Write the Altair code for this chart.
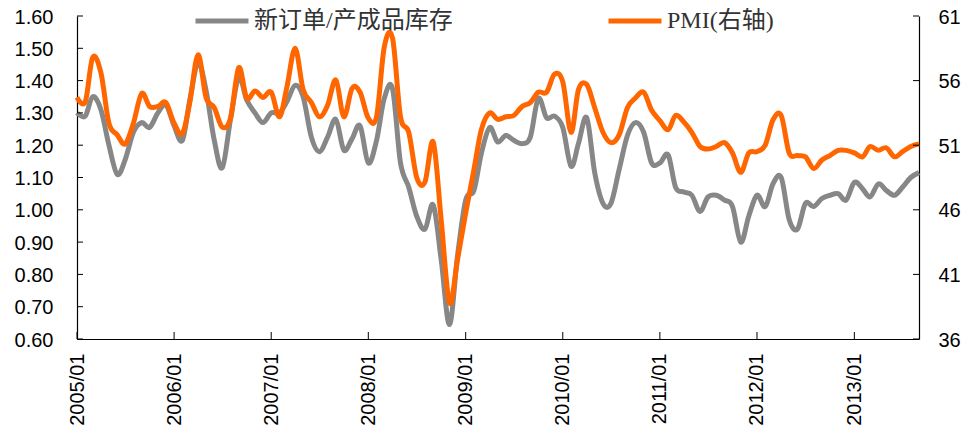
import altair as alt
import pandas as pd

# ---- data ----
start_month = "2005-01-01"
n_months = 105  # 2005/01 .. 2013/09

ratio_values = [
    1.30, 1.29, 1.35, 1.31, 1.20, 1.11, 1.155, 1.24, 1.27, 1.255, 1.30, 1.325,
    1.26, 1.215, 1.34, 1.455, 1.37, 1.215, 1.13, 1.28, 1.41, 1.34, 1.30, 1.27,
    1.30, 1.30, 1.335, 1.385, 1.35, 1.225, 1.18, 1.225, 1.28, 1.185, 1.22, 1.26,
    1.145, 1.215, 1.345, 1.375, 1.145, 1.07, 0.98, 0.94, 1.015, 0.845, 0.645, 0.855,
    1.03, 1.06, 1.175, 1.255, 1.21, 1.23, 1.215, 1.205, 1.225, 1.345, 1.285, 1.29,
    1.255, 1.135, 1.205, 1.285, 1.115, 1.02, 1.02, 1.125, 1.23, 1.27, 1.24, 1.145,
    1.145, 1.17, 1.07, 1.055, 1.045, 0.995, 1.04, 1.045, 1.03, 1.01, 0.90, 0.98,
    1.045, 1.01, 1.08, 1.10, 0.97, 0.94, 1.02, 1.01, 1.035, 1.045, 1.05, 1.03,
    1.085, 1.065, 1.04, 1.08, 1.06, 1.045, 1.07, 1.10, 1.115,
]

pmi_values = [
    54.7, 54.35, 57.8, 56.6, 52.7, 51.8, 51.1, 52.7, 55.0, 54.0, 54.0, 54.3,
    52.7, 51.9, 54.3, 58.0, 54.7, 53.9, 52.4, 53.1, 57.0, 54.65, 55.2, 54.7,
    55.1, 53.2, 55.5, 58.5, 55.3, 54.3, 53.2, 54.1, 56.05, 53.2, 55.4, 55.1,
    53.1, 53.2, 58.6, 59.3, 53.2, 52.0, 48.5, 48.15, 51.25, 45.2, 38.8, 42.1,
    45.75, 49.1, 52.2, 53.5, 53.0, 53.2, 53.3, 54.0, 54.3, 55.1, 55.1, 56.5,
    55.9, 52.0, 55.3, 55.7, 53.9, 52.0, 51.2, 51.8, 53.9, 54.65, 55.1, 53.7,
    52.9, 52.2, 53.3, 52.8, 52.0, 50.9, 50.7, 50.9, 51.2, 50.4, 48.9, 50.4,
    50.5, 51.0, 52.95, 53.3, 50.4, 50.2, 50.1, 49.2, 49.85, 50.2, 50.6, 50.6,
    50.4, 50.1, 50.9, 50.6, 50.8, 50.1, 50.5, 50.9, 51.1,
]

series_names = ["新订单/产成品库存", "PMI(右轴)"]
series_colors = ["#878787", "#FF6600"]

left_ticks = [0.6, 0.7, 0.8, 0.9, 1.0, 1.1, 1.2, 1.3, 1.4, 1.5, 1.6]
right_ticks = [36, 41, 46, 51, 56, 61]
year_ticks = list(range(2005, 2014))

# ---- tables ----
dates = pd.date_range(start_month, periods=n_months, freq="MS")
df_ratio = pd.DataFrame({"date": dates, "ratio": ratio_values, "s": series_names[0]})
df_pmi = pd.DataFrame({"date": dates, "pmi": pmi_values, "s": series_names[1]})
df_left = pd.DataFrame({"ratio": left_ticks})
df_right = pd.DataFrame({"pmi": right_ticks})
df_years = pd.DataFrame({"date": pd.to_datetime([f"{y}-01-01" for y in year_ticks])})

W, H = 842, 323
LABEL_FONT = "Liberation Sans, Arial, sans-serif"
LEGEND_FONT = "Liberation Serif, Noto Sans CJK SC, serif"

x_scale = alt.Scale(domain=[alt.DateTime(year=2005, month=1, date=1),
                            alt.DateTime(year=2013, month=9, date=1)])
left_scale = alt.Scale(domain=[0.6, 1.6], nice=False, zero=False)
right_scale = alt.Scale(domain=[36, 61], nice=False, zero=False)


def x_axis():
    return alt.Axis(
        values=[alt.DateTime(year=y, month=1, date=1) for y in year_ticks],
        format="%Y/%m", labelAngle=270, labelFont=LABEL_FONT, labelFontSize=20,
        labelColor="#000000", labelPadding=14, ticks=False, grid=False,
        domainColor="#000000", domainWidth=1.2, labelFlush=False, title=None,
        labelOverlap=False,
    )


def left_axis():
    return alt.Axis(
        values=left_ticks, format=".2f", labelFont=LABEL_FONT, labelFontSize=20,
        labelColor="#000000", labelPadding=24, ticks=False, grid=False,
        domainColor="#000000", domainWidth=1.2, title=None, labelFlush=False,
        labelOverlap=False, labelOffset=1,
    )


def right_axis():
    return alt.Axis(
        orient="right", values=right_ticks, format="d", labelFont=LABEL_FONT,
        labelFontSize=20, labelColor="#000000", labelPadding=19, ticks=False,
        grid=False, domainColor="#000000", domainWidth=1.2, title=None,
        labelFlush=False, labelOverlap=False, labelOffset=1,
    )


def legend(xpos):
    return alt.Legend(
        orient="none", legendX=xpos, legendY=-24, title=None,
        symbolType="stroke", symbolSize=2809, symbolStrokeWidth=5,
        labelFont=LEGEND_FONT, labelFontSize=24, labelColor="#333333",
        labelOffset=3, padding=0, rowPadding=0, labelLimit=0,
    )


gray_line = alt.Chart(df_ratio).mark_line(strokeWidth=5, interpolate="cardinal").encode(
    x=alt.X("date:T", scale=x_scale, axis=x_axis()),
    y=alt.Y("ratio:Q", scale=left_scale, axis=left_axis()),
    color=alt.Color("s:N", scale=alt.Scale(domain=[series_names[0]], range=[series_colors[0]]),
                    legend=legend(116)),
)

left_tick_rules = alt.Chart(df_left).mark_rule(color="#000000", strokeWidth=1).encode(
    y=alt.Y("ratio:Q", scale=left_scale, axis=left_axis()),
    x=alt.value(0), x2=alt.value(6),
)

x_tick_rules = alt.Chart(df_years).mark_rule(color="#000000", strokeWidth=1).encode(
    x=alt.X("date:T", scale=x_scale, axis=x_axis()),
    y=alt.value(H - 7), y2=alt.value(H),
)

orange_line = alt.Chart(df_pmi).mark_line(strokeWidth=5, interpolate="cardinal").encode(
    x=alt.X("date:T", scale=x_scale, axis=x_axis()),
    y=alt.Y("pmi:Q", scale=right_scale, axis=right_axis()),
    color=alt.Color("s:N", scale=alt.Scale(domain=[series_names[1]], range=[series_colors[1]]),
                    legend=legend(529)),
)

right_tick_rules = alt.Chart(df_right).mark_rule(color="#000000", strokeWidth=1).encode(
    y=alt.Y("pmi:Q", scale=right_scale, axis=right_axis()),
    x=alt.value(W - 6), x2=alt.value(W),
)

left_layer = alt.layer(gray_line, left_tick_rules, x_tick_rules)
right_layer = alt.layer(orange_line, right_tick_rules)

chart = alt.layer(left_layer, right_layer).resolve_scale(
    y="independent", color="independent"
).properties(
    width=W, height=H,
    autosize=alt.AutoSizeParams(type="none"),
    padding={"left": 69, "top": 8, "right": 49, "bottom": 86},
    background="white",
).configure_view(strokeWidth=0)

chart.save("out.html", embed_options={"renderer": "svg", "actions": False})
